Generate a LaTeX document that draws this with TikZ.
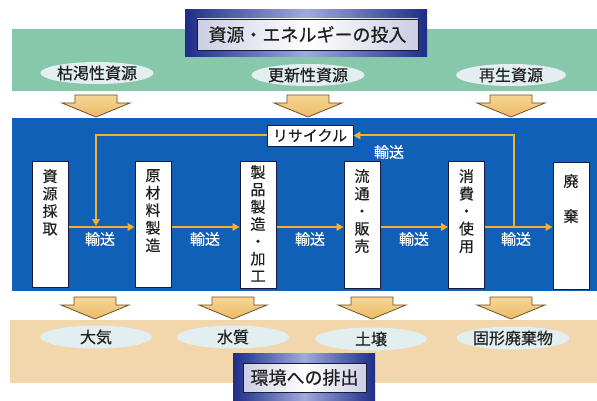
\documentclass[tikz,border=0pt]{standalone}
\usepackage{fontspec}
\newfontfamily\jp[FakeBold=0.4]{Noto Sans CJK JP}
\usetikzlibrary{shapes.geometric,arrows.meta}
\definecolor{bandgreen}{RGB}{136,200,170}
\definecolor{bandblue}{RGB}{16,96,184}
\definecolor{bandtan}{RGB}{242,214,172}
\definecolor{ellfill}{RGB}{226,238,240}
\definecolor{conn}{RGB}{245,176,48}
\definecolor{arrfill}{RGB}{236,186,100}
\definecolor{arrtop}{RGB}{246,214,150}
\definecolor{arrdraw}{RGB}{110,80,35}
\definecolor{navy}{RGB}{30,45,135}
\definecolor{lav}{RGB}{160,170,220}
\definecolor{lavpale}{RGB}{205,205,228}
\definecolor{boxline}{RGB}{20,30,60}
\definecolor{txt}{RGB}{30,30,30}
\tikzset{
  ellnode/.style={ellipse, fill=ellfill, minimum width=110pt, minimum height=22pt, inner sep=0pt, font=\jp\fontsize{16}{16}\selectfont, text=txt},
  procbox/.style={draw=boxline, line width=1pt, fill=white, minimum width=36pt, minimum height=126pt, inner sep=0pt},
  proctext/.style={anchor=north, align=center, inner sep=0pt, font=\jp\fontsize{15}{17.5}\selectfont, text=txt},
  flow/.style={draw=conn, line width=2pt, -{Triangle[length=7pt,width=7.5pt]}},
  flowlbl/.style={font=\jp\fontsize{15}{15}\selectfont, text=white, inner sep=0pt},
  titleframe/.style={left color=navy, right color=navy, middle color=lav, draw=none},
  titleinner/.style={left color=lavpale, right color=lavpale, middle color=white, draw=boxline, line width=0.6pt},
  titletext/.style={font=\jp\fontsize{18}{18}\selectfont, text=txt, inner sep=0pt},
  blockarrow/.pic={\draw[top color=arrtop, bottom color=arrfill, draw=arrdraw, line width=0.8pt, line join=miter]
     (-21,0) -- (21,0) -- (21,8) -- (34,8) -- (0,22) -- (-34,8) -- (-21,8) -- cycle;}
}
\begin{document}
\begin{tikzpicture}[x=1pt,y=-1pt]
\useasboundingbox (0,0) rectangle (597,401);
\fill[white] (0,0) rectangle (597,401);
% bands
\fill[bandgreen] (12,29) rectangle (597,91);
\fill[bandblue] (12,118) rectangle (597,291);
\fill[bandtan] (10,320) rectangle (597,383);

% top title
\path[titleframe] (185,10) rectangle (427,57);
\path[titleinner] (197,19) rectangle (418,50);
\node[titletext] (toptitle) at (307.5,34.5) {資源・エネルギーの投入};

% top ellipses
\node[ellnode] (e1) at (97,73) {枯渇性資源};
\node[ellnode] (e2) at (308,75) {更新性資源};
\node[ellnode] (e3) at (511,75) {再生資源};

% top block arrows
\pic at (96,95) {blockarrow};
\pic at (308,95) {blockarrow};
\pic at (511,95) {blockarrow};

% process boxes
\node[procbox] (b1) at (50,224.5) {};
\node[procbox] (b2) at (153,224.5) {};
\node[procbox] (b3) at (258,225) {};
\node[procbox] (b4) at (362,225) {};
\node[procbox] (b5) at (466.5,225) {};
\node[procbox] (b6) at (571,226) {};
\node[proctext] (t1) at (50,169) {資\\源\\採\\取};
\node[proctext] (t2) at (153,169) {原\\材\\料\\製\\造};
\node[proctext,font=\jp\fontsize{15}{17.3}\selectfont] (t3) at (258,165) {製\\品\\製\\造\\・\\加\\工};
\node[proctext] (t4) at (362,169) {流\\通\\・\\販\\売};
\node[proctext] (t5) at (466.5,169) {消\\費\\・\\使\\用};
\node[proctext,font=\jp\fontsize{15}{35}\selectfont] (t6) at (571,174) {廃\\棄};

% flow arrows
\coordinate (a1) at (96,227);
\coordinate (a5) at (514,227);
\draw[flow] (b1.east |- 0,227) -- (b2.west |- 0,227);
\draw[flow] (b2.east |- 0,227) -- (b3.west |- 0,227);
\draw[flow] (b3.east |- 0,227) -- (b4.west |- 0,227);
\draw[flow] (b4.east |- 0,227) -- (b5.west |- 0,227);
\draw[flow] (b5.east |- 0,227) -- (b6.west |- 0,227);

\node[flowlbl] (l1) at (100,239) {輸送};
\node[flowlbl] (l2) at (205,239) {輸送};
\node[flowlbl] (l3) at (310,239) {輸送};
\node[flowlbl] (l4) at (414,239) {輸送};
\node[flowlbl] (l5) at (516,239) {輸送};

% recycle
\node[draw=boxline, line width=0.8pt, fill=white, minimum width=86pt, minimum height=21pt, inner sep=0pt, font=\jp\fontsize{15}{15}\selectfont, text=txt] (recy) at (310,135.5) {リサイクル};
\draw[flow] (a5) |- (recy.east);
\draw[flow, shorten >=1pt] (recy.west) -| (a1);
\node[flowlbl] (l6) at (389,152) {輸送};

% bottom block arrows
\pic at (95,297) {blockarrow};
\pic at (233,297) {blockarrow};
\pic at (372,297) {blockarrow};
\pic at (511,297) {blockarrow};

% bottom ellipses
\node[ellnode, minimum width=112pt, minimum height=23pt] (f1) at (96,337) {大気};
\node[ellnode, minimum width=112pt, minimum height=23pt] (f2) at (233,337) {水質};
\node[ellnode, minimum width=112pt, minimum height=23pt] (f3) at (371,339) {土壌};
\node[ellnode, minimum width=112pt, minimum height=23pt] (f4) at (513,338) {固形廃棄物};

% bottom title
\path[titleframe] (233,353) rectangle (375,402);
\path[titleinner] (243,363) rectangle (366,392);
\node[titletext] (bottitle) at (304.5,377.5) {環境への排出};
\end{tikzpicture}
\end{document}
